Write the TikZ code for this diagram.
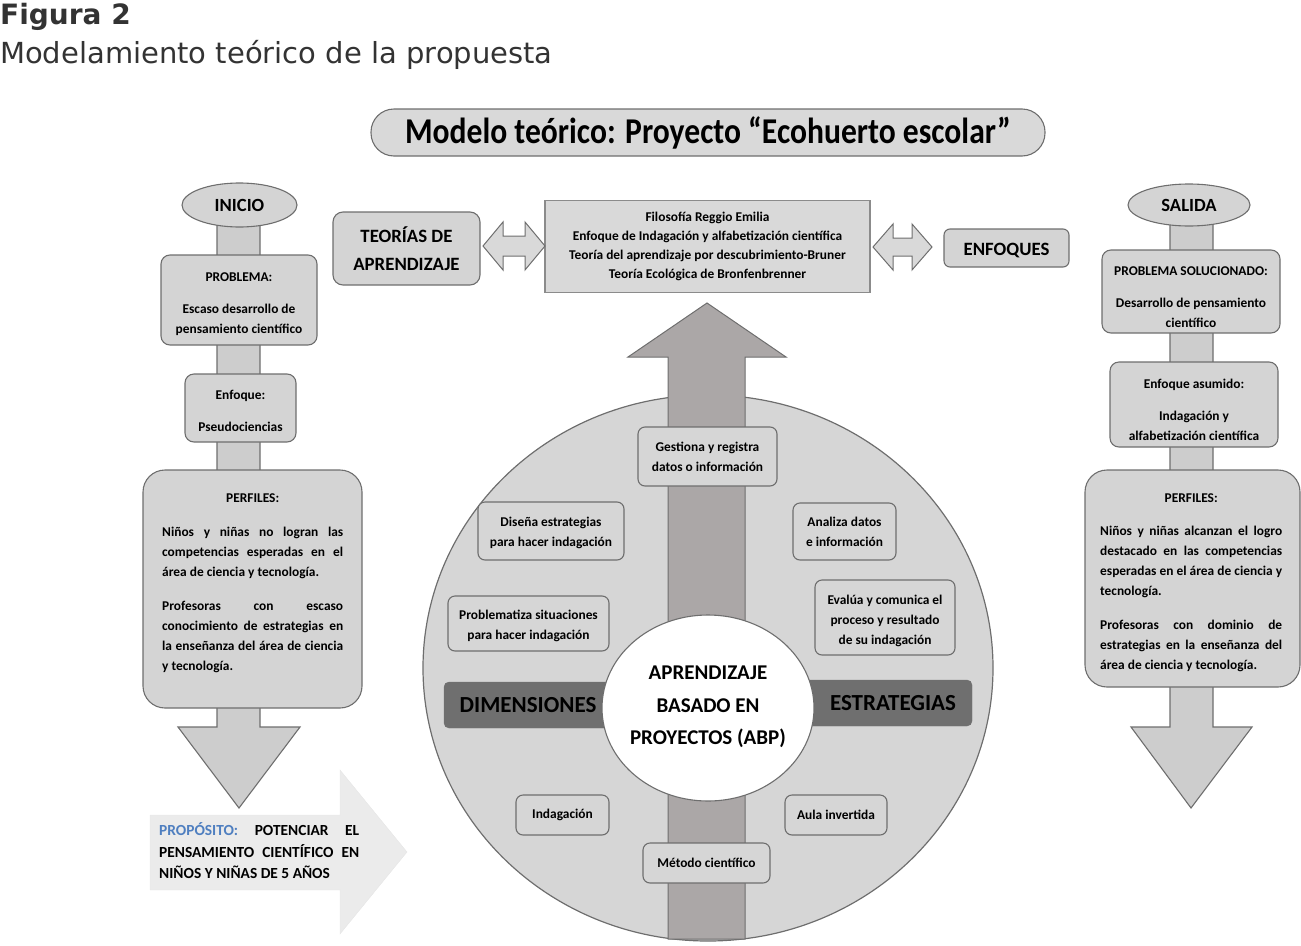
\documentclass[tikz,border=0pt]{standalone}
\usepackage{fontspec}
\setmainfont{Carlito}
\newfontfamily\capfont{DejaVu Sans}
\usetikzlibrary{shapes.geometric}
\definecolor{bord}{HTML}{6E6E6E}
\definecolor{boxg}{HTML}{D4D4D4}
\definecolor{colg}{HTML}{CDCDCD}
\definecolor{circg}{HTML}{D6D6D6}
\definecolor{arrg}{HTML}{ABA7A7}
\definecolor{barg}{HTML}{6F6F6F}
\definecolor{theog}{HTML}{D9D9D9}
\definecolor{propg}{HTML}{EBEBEB}
\definecolor{blueP}{HTML}{4F7FC0}
\definecolor{capc}{HTML}{333333}
\begin{document}
\begin{tikzpicture}[x=1pt,y=-1pt,
  gbox/.style={draw=bord, fill=boxg, line width=1.1pt, rounded corners=9pt, inner sep=0pt},
  cbox/.style={draw=bord, fill=circg, line width=1.1pt, rounded corners=7pt, inner sep=0pt,
     font=\bfseries\fontsize{13.4}{20}\selectfont, align=center},
  oval/.style={ellipse, draw=bord, fill=boxg, line width=1.1pt, inner sep=0pt,
     font=\bfseries\fontsize{18.6}{22}\selectfont},
  small/.style={font=\bfseries\fontsize{13.4}{20}\selectfont, align=center, inner sep=0pt},
  big/.style={font=\bfseries\fontsize{18.8}{28}\selectfont, align=center, inner sep=0pt},
  blockarrow/.style={draw=bord, fill=colg, line width=1.1pt, line join=miter},
  para/.style={font=\bfseries\fontsize{13.4}{20}\selectfont, align=left, inner sep=0pt}
]
\useasboundingbox (0,0) rectangle (1301,945);

% caption
\node[anchor=base west, inner sep=0pt, text=capc, font=\capfont\bfseries\fontsize{28}{30}\selectfont] (fig) at (0,24) {Figura 2};
\node[anchor=base west, inner sep=0pt, text=capc, font=\capfont\fontsize{29}{32}\selectfont] (sub) at (0,63) {Modelamiento teórico de la propuesta};

% title banner
\node[draw=bord, fill=theog, line width=1.1pt, rounded corners=23pt, minimum width=674, minimum height=47,
  font=\bfseries\fontsize{31.6}{34}\selectfont, inner sep=0pt] (title) at (708,132.5)
  {\scalebox{1}[1.15]{Modelo teórico: Proyecto “Ecohuerto escolar”}};

% ---------------- left column ----------------
\draw[blockarrow] (217,210) -- (260,210) -- (260,727) -- (300,727) -- (239,808) -- (178,727) -- (217,727) -- cycle;
\node[oval, minimum width=115, minimum height=44] (inicio) at (239.5,205) {INICIO};
\node[gbox, minimum width=156, minimum height=90] (prob) at (239,300) {};
\node[small] (probt) at ([yshift=-4pt]prob.center) {PROBLEMA:\\[12pt]Escaso desarrollo de\\pensamiento científico};
\node[gbox, minimum width=111, minimum height=68] (enf) at (240.5,408) {};
\node[small] (enft) at ([yshift=-3pt]enf.center) {Enfoque:\\[12pt]Pseudociencias};
\node[gbox, rounded corners=22pt, minimum width=219, minimum height=238] (perfL) at (252.5,589) {};
\node[para, anchor=north west] (perfLt) at (162,493.5) {%
\makebox[181pt][c]{PERFILES:}\\[14pt]
\makebox[181pt][s]{Niños y niñas no logran las}\\
\makebox[181pt][s]{competencias esperadas en el}\\
área de ciencia y tecnología.\\[14pt]
\makebox[181pt][s]{Profesoras con escaso}\\
\makebox[181pt][s]{conocimiento de estrategias en}\\
\makebox[181pt][s]{la enseñanza del área de ciencia}\\
y tecnología.};

% propósito arrow
\draw[draw=propg!90!black!20!propg, fill=propg] (150,815) -- (340,815) -- (340,770) -- (407,852) -- (340,934) -- (340,890) -- (150,890) -- cycle;
\node[para, font=\bfseries\fontsize{15.4}{21.5}\selectfont, anchor=north west] (prop) at (159,822.5) {%
\makebox[200pt][s]{\textcolor{blueP}{PROPÓSITO:} POTENCIAR EL}\\
\makebox[200pt][s]{PENSAMIENTO CIENTÍFICO EN}\\
NIÑOS Y NIÑAS DE 5 AÑOS};

% ---------------- right column ----------------
\draw[blockarrow] (1170,210) -- (1213,210) -- (1213,727) -- (1252,727) -- (1191,808) -- (1131,727) -- (1170,727) -- cycle;
\node[oval, minimum width=122, minimum height=42] (salida) at (1189,205) {SALIDA};
\node[gbox, minimum width=178, minimum height=83] (probS) at (1191,291.5) {};
\node[small] (probSt) at ([yshift=-6pt]probS.center) {PROBLEMA SOLUCIONADO:\\[12pt]Desarrollo de pensamiento\\científico};
\node[gbox, minimum width=168, minimum height=85] (enfA) at (1194,404.5) {};
\node[small] (enfAt) at ([yshift=-5pt]enfA.center) {Enfoque asumido:\\[12pt]Indagación y\\alfabetización científica};
\node[gbox, rounded corners=22pt, minimum width=215, minimum height=217] (perfR) at (1192.5,578.5) {};
\node[para, anchor=north west] (perfRt) at (1100,493.5) {%
\makebox[182pt][c]{PERFILES:}\\[13pt]
\makebox[182pt][s]{Niños y niñas alcanzan el logro}\\
\makebox[182pt][s]{destacado en las competencias}\\
\makebox[182pt][s]{esperadas en el área de ciencia y}\\
tecnología.\\[14pt]
\makebox[182pt][s]{Profesoras con dominio de}\\
\makebox[182pt][s]{estrategias en la enseñanza del}\\
área de ciencia y tecnología.};

% ---------------- top middle ----------------
\node[gbox, rounded corners=10pt, minimum width=147, minimum height=73, big] (teo) at (406.5,248.5)
  {TEORÍAS DE\\APRENDIZAJE};
\node[draw=bord!80, fill=theog, line width=1.1pt, minimum width=325, minimum height=92, inner sep=0pt,
  font=\bfseries\fontsize{13.4}{19}\selectfont, align=center] (theo) at (707.5,246.5)
  {Filosofía Reggio Emilia\\Enfoque de Indagación y alfabetización científica\\Teoría del aprendizaje por descubrimiento-Bruner\\Teoría Ecológica de Bronfenbrenner};
\node[gbox, rounded corners=6pt, minimum width=125, minimum height=38] (enfq) at (1006.5,248) {};
\node[big] (enfqt) at ([yshift=-3pt]enfq.center) {ENFOQUES};

% double arrows
\draw[draw=bord, fill=theog, line width=1pt] (483,246) -- (503,222) -- (503,236) -- (525,236) -- (525,222) -- (545,246) -- (525,270) -- (525,256) -- (503,256) -- (503,270) -- cycle;
\draw[draw=bord, fill=theog, line width=1pt] (873,247) -- (893,224) -- (893,238) -- (912,238) -- (912,224) -- (932,247) -- (912,270) -- (912,256) -- (893,256) -- (893,270) -- cycle;

% ---------------- circle ----------------
\draw[draw=bord, fill=circg, line width=1.2pt] (708,668) ellipse [x radius=285, y radius=273];
\draw[draw=bord, fill=arrg, line width=1pt, line join=miter] (668,939) -- (668,357) -- (628,357) -- (707,303) -- (786,357) -- (745,357) -- (745,939) -- cycle;
\draw[fill=barg, draw=barg, rounded corners=5pt] (444,682) rectangle (650,728);
\draw[fill=barg, draw=barg, rounded corners=5pt] (765,680) rectangle (972,726);
\draw[draw=bord, fill=white, line width=1.1pt] (708,708) ellipse [x radius=106, y radius=93];
\node[font=\bfseries\fontsize{23}{26}\selectfont, inner sep=0pt] (dim) at (528,705) {DIMENSIONES};
\node[font=\bfseries\fontsize{23}{26}\selectfont, inner sep=0pt] (est) at (893,703) {ESTRATEGIAS};
\node[font=\bfseries\fontsize{21}{32.5}\selectfont, align=center, inner sep=0pt] (abp) at (708,707)
  {APRENDIZAJE\\BASADO EN\\PROYECTOS (ABP)};

\node[cbox, minimum width=139, minimum height=59] (gest) at (707.5,456.5) {Gestiona y registra\\datos o información};
\node[cbox, minimum width=146, minimum height=58] (dise) at (551,531) {};
\node[small] (diset) at ([yshift=-2pt]dise.center) {Diseña estrategias\\para hacer indagación};
\node[cbox, minimum width=161, minimum height=55] (probl) at (528.5,623.5) {};
\node[small] (problt) at ([yshift=-2pt]probl.center) {Problematiza situaciones\\para hacer indagación};
\node[cbox, minimum width=103, minimum height=57] (anal) at (844.5,531.5) {Analiza datos\\e información};
\node[cbox, minimum width=140, minimum height=75] (eval) at (885,617.5) {};
\node[small] (evalt) at ([yshift=-3pt]eval.center) {Evalúa y comunica el\\proceso y resultado\\de su indagación};
\node[cbox, minimum width=93, minimum height=40] (indag) at (562.5,815) {Indagación};
\node[cbox, minimum width=102, minimum height=40] (aula) at (836,815) {Aula invertida};
\node[cbox, minimum width=127, minimum height=40] (metodo) at (706.5,863) {Método científico};
\end{tikzpicture}
\end{document}
